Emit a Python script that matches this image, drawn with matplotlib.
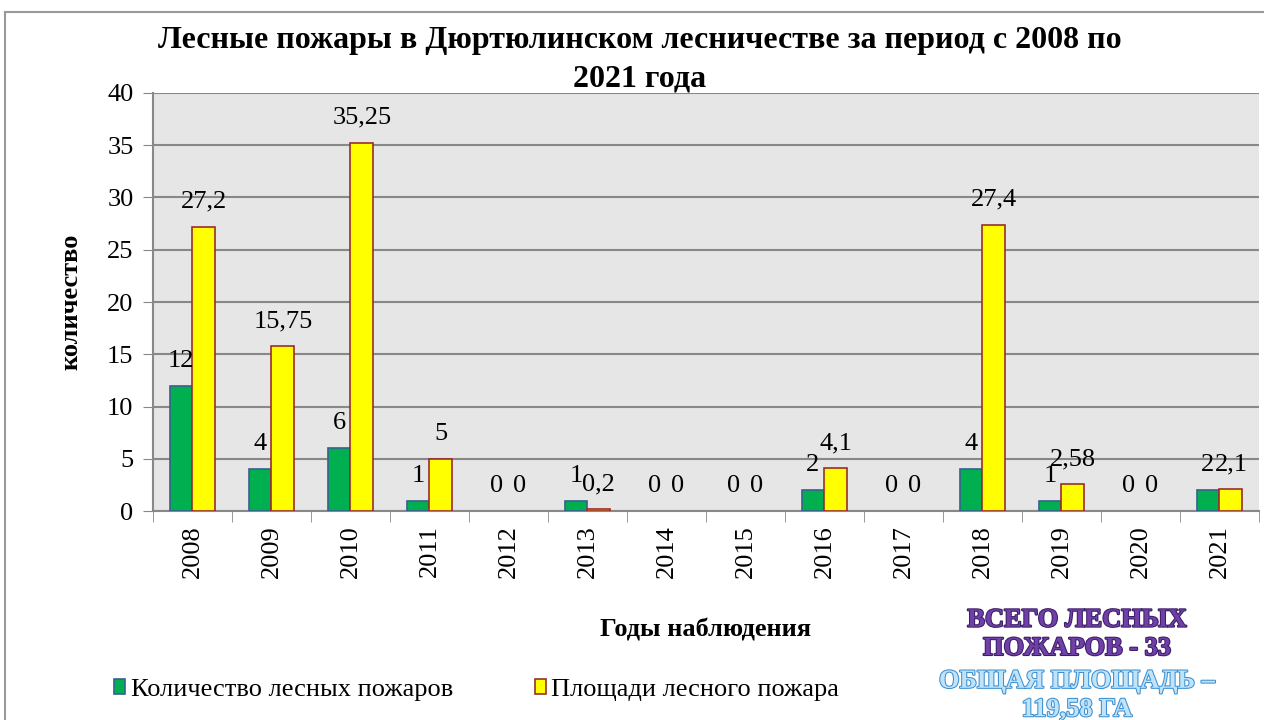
import matplotlib.pyplot as plt
import matplotlib.patheffects as pe
import numpy as np

plt.rcParams['font.family'] = ['Liberation Serif', 'DejaVu Serif']

# данные
years = ['2008', '2009', '2010', '2011', '2012', '2013', '2014',
         '2015', '2016', '2017', '2018', '2019', '2020', '2021']
fires = [12, 4, 6, 1, 0, 1, 0, 0, 2, 0, 4, 1, 0, 2]
area = [27.2, 15.75, 35.25, 5, 0, 0.2, 0, 0, 4.1, 0, 27.4, 2.58, 0, 2.1]


def fmt(v):
    return ('%g' % v).replace('.', ',')


fig = plt.figure(figsize=(12.64, 7.2), dpi=100)
ax = fig.add_axes([0.121, 0.290, 0.875, 0.581])

x = np.arange(len(years))
w = 0.29
ec1 = ['#3A5F8F' if v > 0 else 'none' for v in fires]
ec2 = ['#9B2D2D' if v > 0 else 'none' for v in area]
ax.bar(x - w / 2, fires, w, color='#00B050', edgecolor=ec1,
       linewidth=1.2, zorder=3, label='Количество лесных пожаров')
ax.bar(x + w / 2, area, w, color='#FFFF00', edgecolor=ec2,
       linewidth=1.2, zorder=3, label='Площади лесного пожара')

for xi, v in zip(x - w / 2, fires):
    ax.annotate(fmt(v), (xi, v), xytext=(0, 18), textcoords='offset points',
                ha='center', va='center', fontsize=19)
for xi, v in zip(x + w / 2, area):
    ax.annotate(fmt(v), (xi, v), xytext=(0, 18), textcoords='offset points',
                ha='center', va='center', fontsize=19)

ax.set_xlim(-0.5, len(years) - 0.5)
ax.set_ylim(0, 40)
ax.set_yticks(range(0, 41, 5))
ax.set_xticks(x)
ax.set_xticklabels(years, rotation=90, fontsize=19)
ax.set_xticks(np.arange(-0.5, len(years), 1), minor=True)
ax.tick_params(axis='x', which='major', length=0, pad=10)
ax.tick_params(axis='x', which='minor', length=8, color='#888888', direction='out')
ax.tick_params(axis='y', labelsize=19, length=7, color='#888888', pad=7)

ax.set_facecolor('#E6E6E6')
ax.grid(axis='y', color='#888888', linewidth=1.5, zorder=0)
ax.set_axisbelow(True)
for s in ['top', 'right']:
    ax.spines[s].set_visible(False)
for s in ['left', 'bottom']:
    ax.spines[s].set_color('#888888')
    ax.spines[s].set_linewidth(1.5)

ax.set_ylabel('количество', fontsize=19, fontweight='bold', labelpad=18)
ax.set_xlabel('Годы наблюдения', fontsize=19, fontweight='bold', labelpad=29)

fig.text(0.506, 0.917, 'Лесные пожары в Дюртюлинском лесничестве за период с 2008 по\n2021 года',
         ha='center', va='center', fontsize=23, fontweight='bold', linespacing=1.4)

ax.legend(loc='center left', bbox_to_anchor=(0.08, 0.042), bbox_transform=fig.transFigure,
          ncol=2, frameon=False, fontsize=19, handlelength=0.42, handleheight=0.5,
          handletextpad=0.2, columnspacing=3.1, borderpad=0)

# итоговая надпись
purple = [pe.withStroke(linewidth=1.5, foreground='#3B1E66')]
blue = [pe.withStroke(linewidth=1.5, foreground='#3C8FD0')]
fig.text(0.852, 0.119, 'ВСЕГО ЛЕСНЫХ\nПОЖАРОВ - 33', ha='center', va='center',
         fontsize=19, fontweight='bold', color='#7040A8', linespacing=1.3,
         path_effects=purple)
fig.text(0.852, 0.034, 'ОБЩАЯ ПЛОЩАДЬ –\n119,58 ГА', ha='center', va='center',
         fontsize=19, fontweight='bold', color='#BFE4FA', linespacing=1.3,
         path_effects=blue)

# рамка диаграммы
fig.add_artist(plt.Line2D([0.004, 0.004], [0, 0.983], color='#999999', lw=1.5))
fig.add_artist(plt.Line2D([0.004, 1], [0.983, 0.983], color='#999999', lw=1.5))

fig.savefig('out.png', dpi=100)
